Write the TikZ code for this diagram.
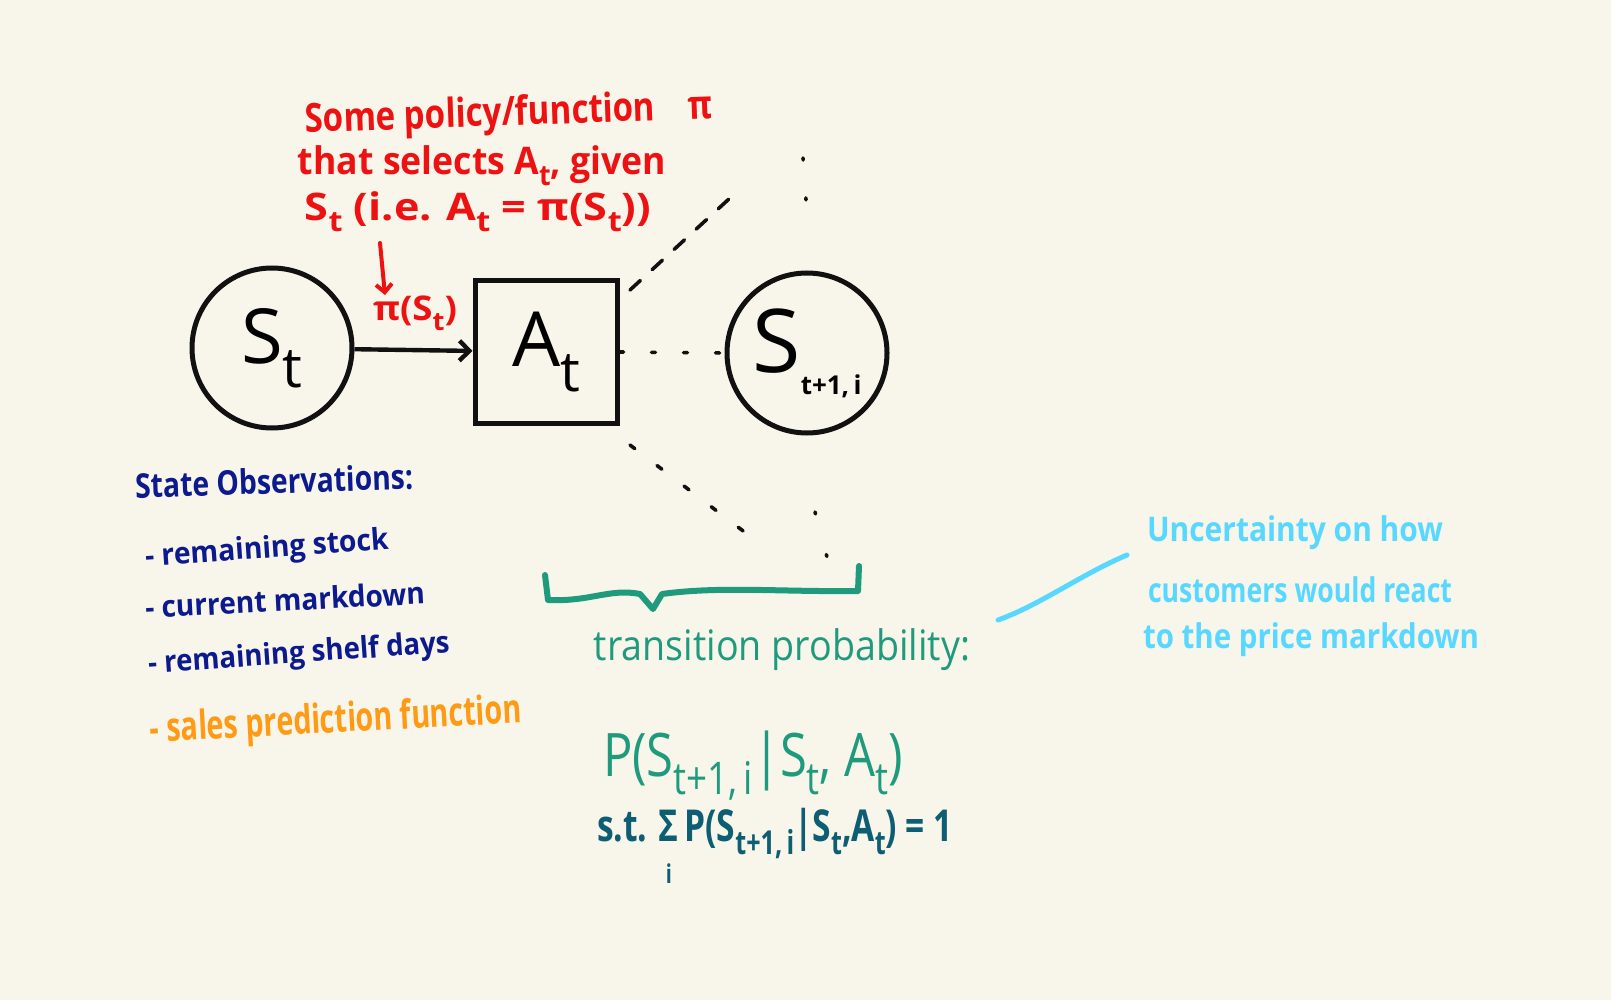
\documentclass[tikz,border=0pt]{standalone}
\usepackage{fontspec}
\setmainfont{Open Sans}
\usetikzlibrary{arrows.meta}
\definecolor{bg}{HTML}{F8F6EB}
\definecolor{penred}{HTML}{EE1111}
\definecolor{pennavy}{HTML}{0C1A8E}
\definecolor{penorange}{HTML}{FF9A14}
\definecolor{penteal}{HTML}{1F9A7C}
\definecolor{pendteal}{HTML}{0E5E73}
\definecolor{pencyan}{HTML}{58D8FF}
\definecolor{penblack}{HTML}{111111}
\newcommand{\fitw}[2]{\resizebox{#1pt}{\height}{#2}}
\newcommand{\sbx}[1]{\raisebox{-0.3em}{\scalebox{0.75}{#1}}}
\newcommand{\fs}[1]{\fontsize{#1}{#1}\selectfont}
\begin{document}
\begin{tikzpicture}[x=0.5pt,y=-0.5pt,
  txt/.style={inner sep=0pt, anchor=center, font=\bfseries},
  statenode/.style={circle, draw=penblack, line width=2.5pt, minimum size=80pt, inner sep=0pt},
  actnode/.style={rectangle, draw=penblack, line width=2.5pt, minimum size=71pt, inner sep=0pt},
  dotline/.style={penblack, line width=1.8pt, line cap=round, dash pattern=on 1pt off 11pt},
  dashline/.style={penblack, line width=1.8pt, line cap=round, dash pattern=on 7pt off 8pt}]
\fill[bg] (0,0) rectangle (1611,1000);
\useasboundingbox (0,0) rectangle (1611,1000);

% main nodes
\node[statenode] (st) at (272,348) {\fs{38}S\raisebox{-0.32em}{\fs{28}t}};
\node[actnode] (at) at (546,352) {\fs{38}A\raisebox{-0.32em}{\fs{28}t}};
\node[statenode] (sn) at (807,353) {\fs{44}S\raisebox{-0.25em}{\fs{13}\bfseries t+1,\,i}};

\draw[penblack, line width=2.2pt, -{Straight Barb[length=5pt,width=10pt]}] (st) -- (at);

% pi label and red annotation
\node[txt, penred] (pil) at (415,313) {\fitw{42}{\fs{17}π(S\sbx{t})}};
\node[txt, penred, rotate=2] (r1) at (509,115) {\fitw{204}{\fs{20}Some policy/function\quad π}};
\node[txt, penred] (r2) at (482,166) {\fitw{184}{\fs{19}that selects A\sbx{t}, given}};
\node[txt, penred] (r3) at (478,212) {\fitw{173}{\fs{19}S\sbx{t} (i.e. A\sbx{t} = π(S\sbx{t}))}};
\coordinate (rtop) at (380,243);
\draw[penred, line width=2pt, line cap=round, -{Straight Barb[length=4pt,width=8pt]}] (rtop) -- (pil.north -| 385,0);

% possible transitions
\coordinate (up1) at (630,290);
\coordinate (up2) at (730,198);
\coordinate (upv1) at (803,158);
\coordinate (upv2) at (806,200);
\coordinate (lo1) at (630,445);
\coordinate (lo2) at (755,540);
\coordinate (lov1) at (815,512);
\coordinate (lov2) at (827,557);
\draw[dashline] (up1) -- (up2);
\draw[dotline, dash pattern=on 1pt off 19pt] (upv1) -- (upv2);
\draw[dotline, dash pattern=on 2pt off 14pt] (at.east) -- (sn.west);
\draw[dotline, dash pattern=on 3pt off 14pt] (lo1) -- (lo2);
\draw[dotline, dash pattern=on 1pt off 21pt] (lov1) -- (lov2);

% brace
\draw[penteal, line width=3pt, line cap=round, line join=round]
  (545,575) -- (548,600) .. controls (590,602) and (610,588) .. (640,594)
  -- (653,609) -- (662,594) .. controls (720,586) and (780,592) .. (858,591) -- (859,566);

% transition probability texts
\node[txt, penteal, font=\mdseries] (tp) at (782,650) {\fitw{188}{\fs{21}transition probability:}};
\node[txt, penteal, font=\mdseries] (pf) at (753,766) {\fitw{150}{\fs{30}P(S\sbx{t+1,\,i}|S\sbx{t}, A\sbx{t})}};
\node[txt, pendteal] (pc) at (775,846) {\fitw{178}{\fs{22}s.t. \ooalign{Σ\cr\hfil\raisebox{-0.95em}{\fs{13}i}\hfil\cr}\,P(S\sbx{t+1,\,i}|S\sbx{t},A\sbx{t}) = 1}};

% state observations
\node[txt, pennavy, rotate=2] (so) at (274,481) {\fitw{139}{\fs{17}State Observations:}};
\node[txt, pennavy, rotate=4] (o1) at (267,550) {\fitw{122}{\fs{15}- remaining stock}};
\node[txt, pennavy, rotate=3] (o2) at (285,600) {\fitw{140}{\fs{15}- current markdown}};
\node[txt, pennavy, rotate=4] (o3) at (299,655) {\fitw{151}{\fs{15}- remaining shelf days}};
\node[txt, penorange, rotate=3] (o4) at (336,722) {\fitw{186}{\fs{20}- sales prediction function}};

% uncertainty note
\coordinate (cy1) at (998,620);
\coordinate (cy2) at (1127,555);
\draw[pencyan, line width=2.5pt, line cap=round] (cy1) .. controls (1040,605) and (1080,575) .. (cy2);
\node[txt, pencyan] (u1) at (1295,533) {\fitw{148}{\fs{17}Uncertainty on how}};
\node[txt, pencyan] (u2) at (1300,590) {\fitw{152}{\fs{17}customers would react}};
\node[txt, pencyan] (u3) at (1311,640) {\fitw{168}{\fs{17}to the price markdown}};
\end{tikzpicture}
\end{document}
